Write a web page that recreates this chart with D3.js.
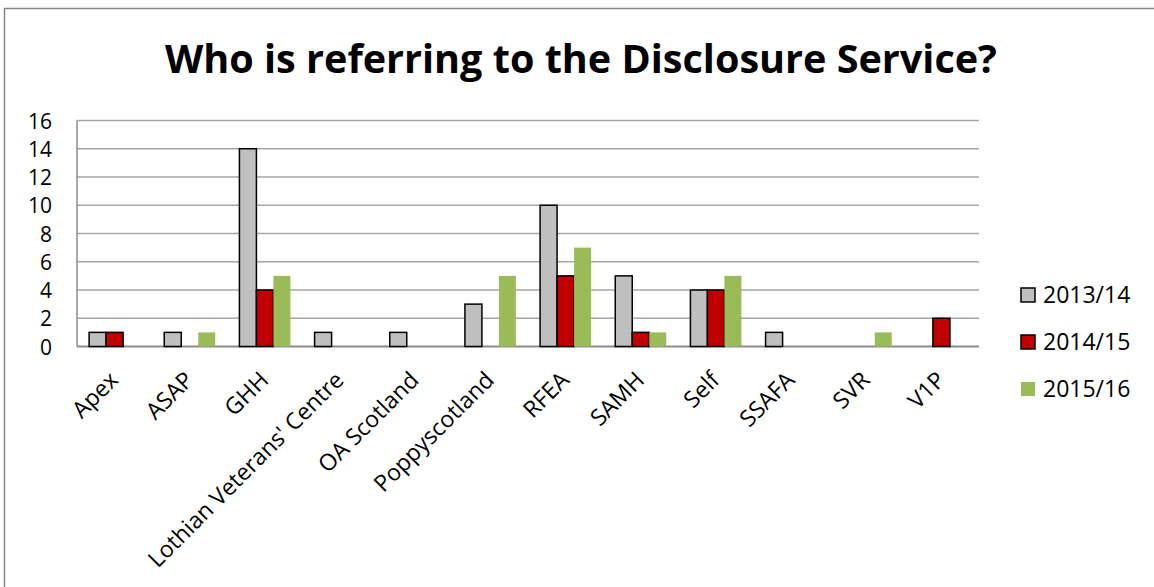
<!DOCTYPE html>
<html><head><meta charset="utf-8">
<script src="https://cdn.jsdelivr.net/npm/d3@7"></script>
<style>html,body{margin:0;padding:0;background:#fff;}svg{display:block;}</style>
</head><body>
<script>
const categories = ["Apex","ASAP","GHH","Lothian Veterans' Centre","OA Scotland","Poppyscotland","RFEA","SAMH","Self","SSAFA","SVR","V1P"];
const seriesNames = ["2013/14","2014/15","2015/16"];
const values2013 = [1,1,14,1,1,3,10,5,4,1,0,0];
const values2014 = [1,0,4,0,0,0,5,1,4,0,0,2];
const values2015 = [0,1,5,0,0,5,7,1,5,0,1,0];
const yTicks = [0,2,4,6,8,10,12,14,16];
const colors = ["#BFBFBF","#C00000","#9BBB59"];
const strokes = ["#000","#000","none"];
const title = "Who is referring to the Disclosure Service?";

const W=1154,H=587;
const svg=d3.select("body").append("svg").attr("width",W).attr("height",H);
const font="Open Sans, Lato, sans-serif";
svg.append("path").attr("d",`M4.5,${H} L4.5,8.5 L${W},8.5`).attr("fill","none").attr("stroke","#888").attr("stroke-width",1.5);

svg.append("text").attr("x",581).attr("y",72.5).attr("text-anchor","middle")
  .attr("font-family","Liberation Sans Narrow, Open Sans, sans-serif").attr("font-weight","bold").attr("font-size",39)
  .attr("textLength",832).attr("lengthAdjust","spacingAndGlyphs").text(title);

const pLeft=77,pRight=979,pTop=120.5,pBottom=346.5;
const x=d3.scaleBand().domain(categories).range([pLeft,pRight]).paddingInner(0).paddingOuter(0);
const y=d3.scaleLinear().domain([0,16]).range([pBottom,pTop]);
const xs=d3.scaleBand().domain(seriesNames).range([0,51]);
const bandPad=(x.bandwidth()-51)/2;

const g=svg.append("g");
g.selectAll("line.grid").data(yTicks.filter(d=>d>0)).join("line")
  .attr("x1",pLeft).attr("x2",pRight).attr("y1",d=>y(d)).attr("y2",d=>y(d))
  .attr("stroke","#A6A6A6").attr("stroke-width",1.5);
g.append("line").attr("x1",pLeft).attr("x2",pLeft).attr("y1",pTop).attr("y2",pBottom).attr("stroke","#8C8C8C").attr("stroke-width",1.5);
g.append("line").attr("x1",pLeft).attr("x2",pRight).attr("y1",pBottom).attr("y2",pBottom).attr("stroke","#8C8C8C").attr("stroke-width",2);

const yAxis=d3.axisLeft(y).tickValues(yTicks).tickSize(0).tickPadding(0);
const ya=svg.append("g").attr("transform",`translate(${pLeft-25},0)`).call(yAxis);
ya.select(".domain").remove();
ya.selectAll("text").attr("font-family",font).attr("font-size",21).attr("fill","#000").attr("dy","0.36em");

const all=[values2013,values2014,values2015];
const data=[];
all.forEach((arr,si)=>arr.forEach((v,ci)=>{ if(v>0) data.push({c:categories[ci],s:seriesNames[si],si,v}); }));
svg.append("g").selectAll("rect").data(data).join("rect")
  .attr("x",d=>x(d.c)+bandPad+xs(d.s)).attr("width",xs.bandwidth())
  .attr("y",d=>y(d.v)).attr("height",d=>pBottom-y(d.v))
  .attr("fill",d=>colors[d.si]).attr("stroke",d=>strokes[d.si]).attr("stroke-width",1.5);

const xAxis=d3.axisBottom(x).tickSize(0).tickPadding(0);
const xa=svg.append("g").attr("transform",`translate(0,${pBottom})`).call(xAxis);
xa.select(".domain").remove();
xa.selectAll("text").attr("font-family",font).attr("font-size",23).attr("fill","#000")
  .attr("text-anchor","end").attr("dy",null).attr("y",0)
  .attr("transform","translate(5,35) rotate(-45)");

const leg=svg.append("g");
seriesNames.forEach((s,i)=>{
  const yy=295+i*47;
  leg.append("rect").attr("x",1021).attr("y",yy-7).attr("width",14).attr("height",14)
    .attr("fill",colors[i]).attr("stroke",strokes[i]).attr("stroke-width",1.5);
  leg.append("text").attr("x",1043).attr("y",yy).attr("dy","0.34em").attr("font-family",font).attr("font-size",23).text(s);
});
</script>
</body></html>
